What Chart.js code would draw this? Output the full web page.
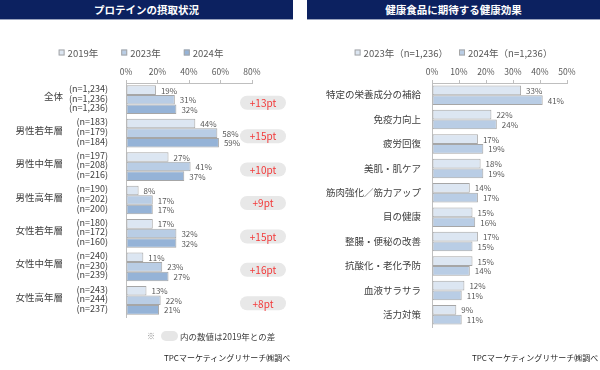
<!DOCTYPE html>
<html><head><meta charset="utf-8">
<script src="https://cdn.jsdelivr.net/npm/chart.js@4"></script>
<style>
html,body{margin:0;padding:0;background:#fff;}
body{width:600px;height:370px;position:relative;overflow:hidden;font-family:"Noto Sans CJK JP",sans-serif;}
.tbar{position:absolute;top:0;height:19px;background:#0c2160;border-bottom:1px solid #9aa3bd;color:#fff;font-weight:bold;font-size:10.5px;line-height:19px;text-align:center;}
canvas{position:absolute;top:0;}
.txt{position:absolute;white-space:nowrap;line-height:12px;}
.pill{position:absolute;background:#e6e6e6;border-radius:5px;}
</style></head>
<body>
<div class="tbar" style="left:0;width:293px;">プロテインの摂取状況</div>
<div class="tbar" style="left:307px;width:293px;">健康食品に期待する健康効果</div>
<canvas id="c1" width="300" height="370" style="left:0"></canvas>
<canvas id="c2" width="300" height="370" style="left:300px"></canvas>
<div class="txt" style="left:147px;top:330px;font-size:8px;color:#8c8c8c;">※</div>
<div class="pill" style="left:161px;top:331px;width:17px;height:10px;"></div>
<div class="txt" style="left:180px;top:330px;font-size:8.5px;color:#404040;">内の数値は2019年との差</div>
<div class="txt" style="left:164px;top:352px;font-size:8px;color:#262626;">TPCマーケティングリサーチ㈱調べ</div>
<div class="txt" style="left:472px;top:352px;font-size:8px;color:#262626;">TPCマーケティングリサーチ㈱調べ</div>
<script>
// ---- data: left chart ----
const groups = ['全体','男性若年層','男性中年層','男性高年層','女性若年層','女性中年層','女性高年層'];
const years = ['2019年','2023年','2024年'];
const share2019 = [19,44,27,8,17,11,13];
const share2023 = [31,58,41,17,32,23,22];
const share2024 = [32,59,37,17,32,27,21];
const n2019 = [1234,183,197,190,180,240,243];
const n2023 = [1236,179,208,202,172,230,244];
const n2024 = [1236,184,216,200,160,239,237];
const diffPt = [13,15,10,9,15,16,8];
const ticksLeft = [0,20,40,60,80];
// ---- data: right chart ----
const effects = ['特定の栄養成分の補給','免疫力向上','疲労回復','美肌・肌ケア','筋肉強化／筋力アップ','目の健康','整腸・便秘の改善','抗酸化・老化予防','血液サラサラ','活力対策'];
const effectSeries = ['2023年（n=1,236）','2024年（n=1,236）'];
const effect2023 = [33,22,17,18,14,15,17,15,12,9];
const effect2024 = [41,24,19,19,17,16,15,14,11,11];
const ticksRight = [0,10,20,30,40,50];

const FAM = '"Noto Sans CJK JP", "Noto Sans", sans-serif';

const marks = {
  id: 'marks',
  afterDatasetsDraw(chart, args, o) {
    const ctx = chart.ctx;
    ctx.save();
    ctx.textBaseline = 'middle';
    // value labels
    ctx.font = o.valueFont + 'px ' + FAM;
    ctx.fillStyle = '#595959';
    ctx.textAlign = 'left';
    chart.data.datasets.forEach((ds, i) => {
      chart.getDatasetMeta(i).data.forEach((bar, j) => {
        ctx.fillText(ds.data[j] + '%', bar.x + 5, bar.y + 0.5);
      });
    });
    // category labels
    const ys = chart.scales.y;
    ctx.font = o.catFont + 'px ' + FAM;
    ctx.fillStyle = '#404040';
    ctx.textAlign = 'right';
    chart.data.labels.forEach((lab, j) => {
      ctx.fillText(lab, o.catX, ys.getPixelForValue(j) + o.catDy);
    });
    // n labels
    if (o.nLists) {
      ctx.font = '9px ' + FAM;
      ctx.fillStyle = '#404040';
      o.nLists.forEach((list, i) => {
        const meta = chart.getDatasetMeta(i);
        list.forEach((n, j) => {
          ctx.fillText('(n=' + n.toLocaleString('en-US') + ')', o.nX, meta.data[j].y - 1.5);
        });
      });
    }
    // difference pills
    if (o.pills) {
      o.pills.forEach((d, j) => {
        const cy = ys.getPixelForValue(j) + 3;
        ctx.fillStyle = '#e8e8e8';
        ctx.beginPath();
        ctx.roundRect(o.pillX - 23, cy - 7, 46, 14, 7);
        ctx.fill();
        ctx.fillStyle = '#f23a3a';
        ctx.font = '10px ' + FAM;
        ctx.textAlign = 'center';
        ctx.fillText('+' + d + 'pt', o.pillX, cy + 0.5);
      });
    }
    // legend
    ctx.font = o.legendFont + 'px ' + FAM;
    ctx.textAlign = 'left';
    const items = chart.data.datasets.map(ds => ({ds, w: 6 + 3 + ctx.measureText(ds.label).width}));
    const total = items.reduce((s, it) => s + it.w, 0) + o.legendGap * (items.length - 1);
    let x = o.legendCX - total / 2;
    items.forEach(it => {
      ctx.fillStyle = it.ds.backgroundColor;
      ctx.fillRect(x, o.legendY - 3, 6, 6);
      ctx.strokeStyle = '#a6a6a6';
      ctx.lineWidth = 1;
      ctx.strokeRect(x + 0.5, o.legendY - 2.5, 5, 5);
      ctx.fillStyle = '#595959';
      ctx.fillText(it.ds.label, x + 9, o.legendY + 0.5);
      x += it.w + o.legendGap;
    });
    ctx.restore();
  }
};

function makeScales(max, step, ticks) {
  return {
    x: {
      position: 'top', min: 0, max: max,
      afterFit(s) { s.height = 20; },
      afterBuildTicks(s) { s.ticks = ticks.map(v => ({value: v})); },
      ticks: {stepSize: step, callback: v => v + '%', font: {size: 8.5, family: FAM}, color: '#595959', padding: 3, maxRotation: 0},
      grid: {drawOnChartArea: false, tickLength: 3, color: '#bfbfbf'},
      border: {color: '#bfbfbf'}
    },
    y: {
      afterFit(s) { s.width = 0; },
      ticks: {display: false},
      grid: {display: false},
      border: {color: '#bfbfbf'}
    }
  };
}

const barDefaults = {borderColor: '#a6a6a6', borderWidth: 1, borderSkipped: false, barPercentage: 1};

new Chart(document.getElementById('c1'), {
  type: 'bar',
  data: {
    labels: groups,
    datasets: [
      {label: years[0], data: share2019, backgroundColor: '#dce6f2'},
      {label: years[1], data: share2023, backgroundColor: '#b9cde5'},
      {label: years[2], data: share2024, backgroundColor: '#95b3d7'}
    ]
  },
  options: {
    indexAxis: 'y', responsive: false, animation: false, devicePixelRatio: 1,
    layout: {padding: {left: 126, right: 48, top: 63, bottom: 53}},
    datasets: {bar: Object.assign({categoryPercentage: 0.86}, barDefaults)},
    plugins: {
      legend: {display: false}, tooltip: {enabled: false},
      marks: {valueFont: 8, catFont: 9.5, catX: 63, catDy: -3, nX: 108, nLists: [n2019, n2023, n2024],
              pills: diffPt, pillX: 263, legendFont: 9.5, legendCX: 141, legendY: 52.5, legendGap: 23}
    },
    scales: makeScales(80, 20, ticksLeft)
  },
  plugins: [marks]
});

new Chart(document.getElementById('c2'), {
  type: 'bar',
  data: {
    labels: effects,
    datasets: [
      {label: effectSeries[0], data: effect2023, backgroundColor: '#dce6f2'},
      {label: effectSeries[1], data: effect2024, backgroundColor: '#b9cde5'}
    ]
  },
  options: {
    indexAxis: 'y', responsive: false, animation: false, devicePixelRatio: 1,
    layout: {padding: {left: 132, right: 33, top: 63, bottom: 43}},
    datasets: {bar: Object.assign({categoryPercentage: 0.8}, barDefaults)},
    plugins: {
      legend: {display: false}, tooltip: {enabled: false},
      marks: {valueFont: 8, catFont: 9.5, catX: 121, catDy: -0.5,
              legendFont: 9.5, legendCX: 153.5, legendY: 52.5, legendGap: 11}
    },
    scales: makeScales(50, 10, ticksRight)
  },
  plugins: [marks]
});
</script>
</body></html>
